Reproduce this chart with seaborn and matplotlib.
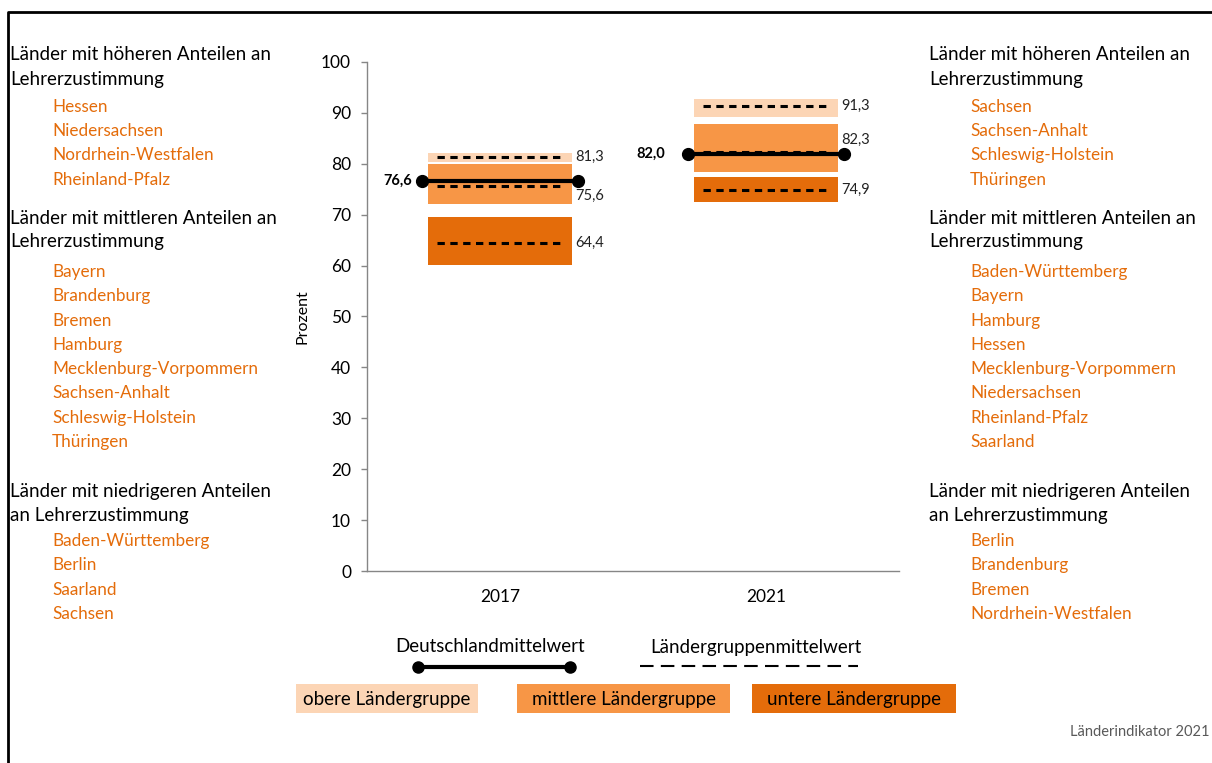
import matplotlib
matplotlib.use("Agg")
import matplotlib.pyplot as plt
from matplotlib.lines import Line2D
from matplotlib.patches import Rectangle
import seaborn as sns

# data
years = ["2017", "2021"]
upper_lo = [80.3, 89.1]
upper_hi = [82.2, 92.7]
mid_lo = [72.1, 78.4]
mid_hi = [80.0, 87.8]
low_lo = [60.1, 72.4]
low_hi = [69.5, 77.5]
upper_mean = [81.3, 91.3]
mid_mean = [75.6, 82.3]
low_mean = [64.4, 74.9]
de_mean = [76.6, 82.0]

head_hi = "Länder mit höheren Anteilen an\nLehrerzustimmung"
head_mid = "Länder mit mittleren Anteilen an\nLehrerzustimmung"
head_lo = "Länder mit niedrigeren Anteilen\nan Lehrerzustimmung"
left_hi = ["Hessen", "Niedersachsen", "Nordrhein-Westfalen", "Rheinland-Pfalz"]
left_mid = ["Bayern", "Brandenburg", "Bremen", "Hamburg", "Mecklenburg-Vorpommern",
            "Sachsen-Anhalt", "Schleswig-Holstein", "Thüringen"]
left_lo = ["Baden-Württemberg", "Berlin", "Saarland", "Sachsen"]
right_hi = ["Sachsen", "Sachsen-Anhalt", "Schleswig-Holstein", "Thüringen"]
right_mid = ["Baden-Württemberg", "Bayern", "Hamburg", "Hessen",
             "Mecklenburg-Vorpommern", "Niedersachsen", "Rheinland-Pfalz", "Saarland"]
right_lo = ["Berlin", "Brandenburg", "Bremen", "Nordrhein-Westfalen"]

c_light = "#FCD5B5"
c_mid = "#F79646"
c_dark = "#E46C0A"
c_text = "#E46C0A"

sns.set_theme(style="white")
plt.rcParams["font.family"] = ["Lato", "DejaVu Sans"]

W, H = 1212, 763
fig = plt.figure(figsize=(W / 100, H / 100), dpi=100)


def fx(px):
    return px / W


def fy(py):
    return 1 - py / H


ax = fig.add_axes([fx(367), fy(571), (899 - 367) / W, (571 - 62) / H])

x = list(range(len(years)))
bw = 0.545
for lo, hi, col in [(upper_lo, upper_hi, c_light), (mid_lo, mid_hi, c_mid), (low_lo, low_hi, c_dark)]:
    ax.bar(x, [h - l for l, h in zip(lo, hi)], bottom=lo, width=bw, color=col, linewidth=0, zorder=1)

# group means (dashed)
gw = 0.237
for means in [upper_mean, mid_mean, low_mean]:
    ax.hlines(means, [i - gw for i in x], [i + gw for i in x], colors="black",
              linewidth=2.2, linestyles=(0, (2.4, 1.8)), zorder=2)

# Deutschland mean
nw = 0.295
for i, v in zip(x, de_mean):
    ax.plot([i - nw, i + nw], [v, v], color="black", linewidth=3, marker="o",
            markersize=8.5, zorder=3)

# labels
lab_dy = {0: [0, -10, 0], 1: [0, 12, 0]}
for i in x:
    for k, means in enumerate([upper_mean, mid_mean, low_mean]):
        ax.annotate(f"{means[i]:.1f}".replace(".", ","), (i + bw / 2, means[i]),
                    xytext=(2, lab_dy[i][k] * 0.72), textcoords="offset points",
                    ha="left", va="center", fontsize=10.5, color="#222222")
nat_dx = [-0.33, -0.38]
for i, v in zip(x, de_mean):
    ax.text(i + nat_dx[i], v, f"{v:.1f}".replace(".", ","), ha="right", va="center",
            fontsize=10.5, fontweight="bold", color="black")

ax.set_xlim(-0.5, 1.5)
ax.set_ylim(0, 100)
ax.set_yticks(range(0, 101, 10))
ax.set_xticks(x)
ax.set_xticklabels(years)
ax.tick_params(axis="y", length=4.5, width=1, color="#868686", pad=7, labelsize=12.5, labelcolor="black", left=True)
ax.tick_params(axis="x", length=0, pad=13, labelsize=12.5, labelcolor="black")
sns.despine(ax=ax)
for s in ["left", "bottom"]:
    ax.spines[s].set_color("#868686")
    ax.spines[s].set_linewidth(1)
ax.set_ylabel("Prozent", fontsize=11.5, color="black")
ax.yaxis.set_label_coords(-57 / 532, 0.5)

# side text
fs_head = 13.5
fs_state = 12.3
head_y = [67, 230, 503]
state_y = [[107, 131, 155, 180], [272, 296, 321, 345, 369, 393, 418, 442], [541, 565, 590, 614]]
for hx, sx, heads, states in [(10, 52, [head_hi, head_mid, head_lo], [left_hi, left_mid, left_lo]),
                               (929, 970, [head_hi, head_mid, head_lo], [right_hi, right_mid, right_lo])]:
    for hy, head, ys, names in zip(head_y, heads, state_y, states):
        fig.text(fx(hx), fy(hy), head, ha="left", va="center", fontsize=fs_head,
                 color="black", linespacing=1.5)
        for yy, name in zip(ys, names):
            fig.text(fx(sx), fy(yy), name, ha="left", va="center", fontsize=fs_state, color=c_text)

# legend
fig.text(fx(490), fy(647), "Deutschlandmittelwert", ha="center", va="center", fontsize=fs_head, color="black")
fig.add_artist(Line2D([fx(418), fx(570)], [fy(667), fy(667)], color="black", linewidth=3,
                      marker="o", markersize=8, transform=fig.transFigure))
fig.text(fx(756), fy(647), "Ländergruppenmittelwert", ha="center", va="center", fontsize=fs_head, color="black")
fig.add_artist(Line2D([fx(640), fx(858)], [fy(666), fy(666)], color="black", linewidth=1.5,
                      linestyle=(0, (6.5, 3.5)), transform=fig.transFigure))
for x0, x1, col, txt in [(296, 478, c_light, "obere Ländergruppe"),
                         (517, 730, c_mid, "mittlere Ländergruppe"),
                         (752, 956, c_dark, "untere Ländergruppe")]:
    fig.add_artist(Rectangle((fx(x0), fy(713)), (x1 - x0) / W, 29 / H, facecolor=col,
                             edgecolor="none", transform=fig.transFigure))
    fig.text(fx((x0 + x1) / 2), fy(699), txt, ha="center", va="center", fontsize=fs_head, color="black")

fig.text(fx(1210), fy(732), "Länderindikator 2021", ha="right", va="center", fontsize=10.5, color="#595959")

# frame
fig.add_artist(Line2D([fx(8), fx(8), 1.0], [0.0, fy(12), fy(12)], color="black", linewidth=2,
                      transform=fig.transFigure))

fig.savefig("out.png", dpi=100)
